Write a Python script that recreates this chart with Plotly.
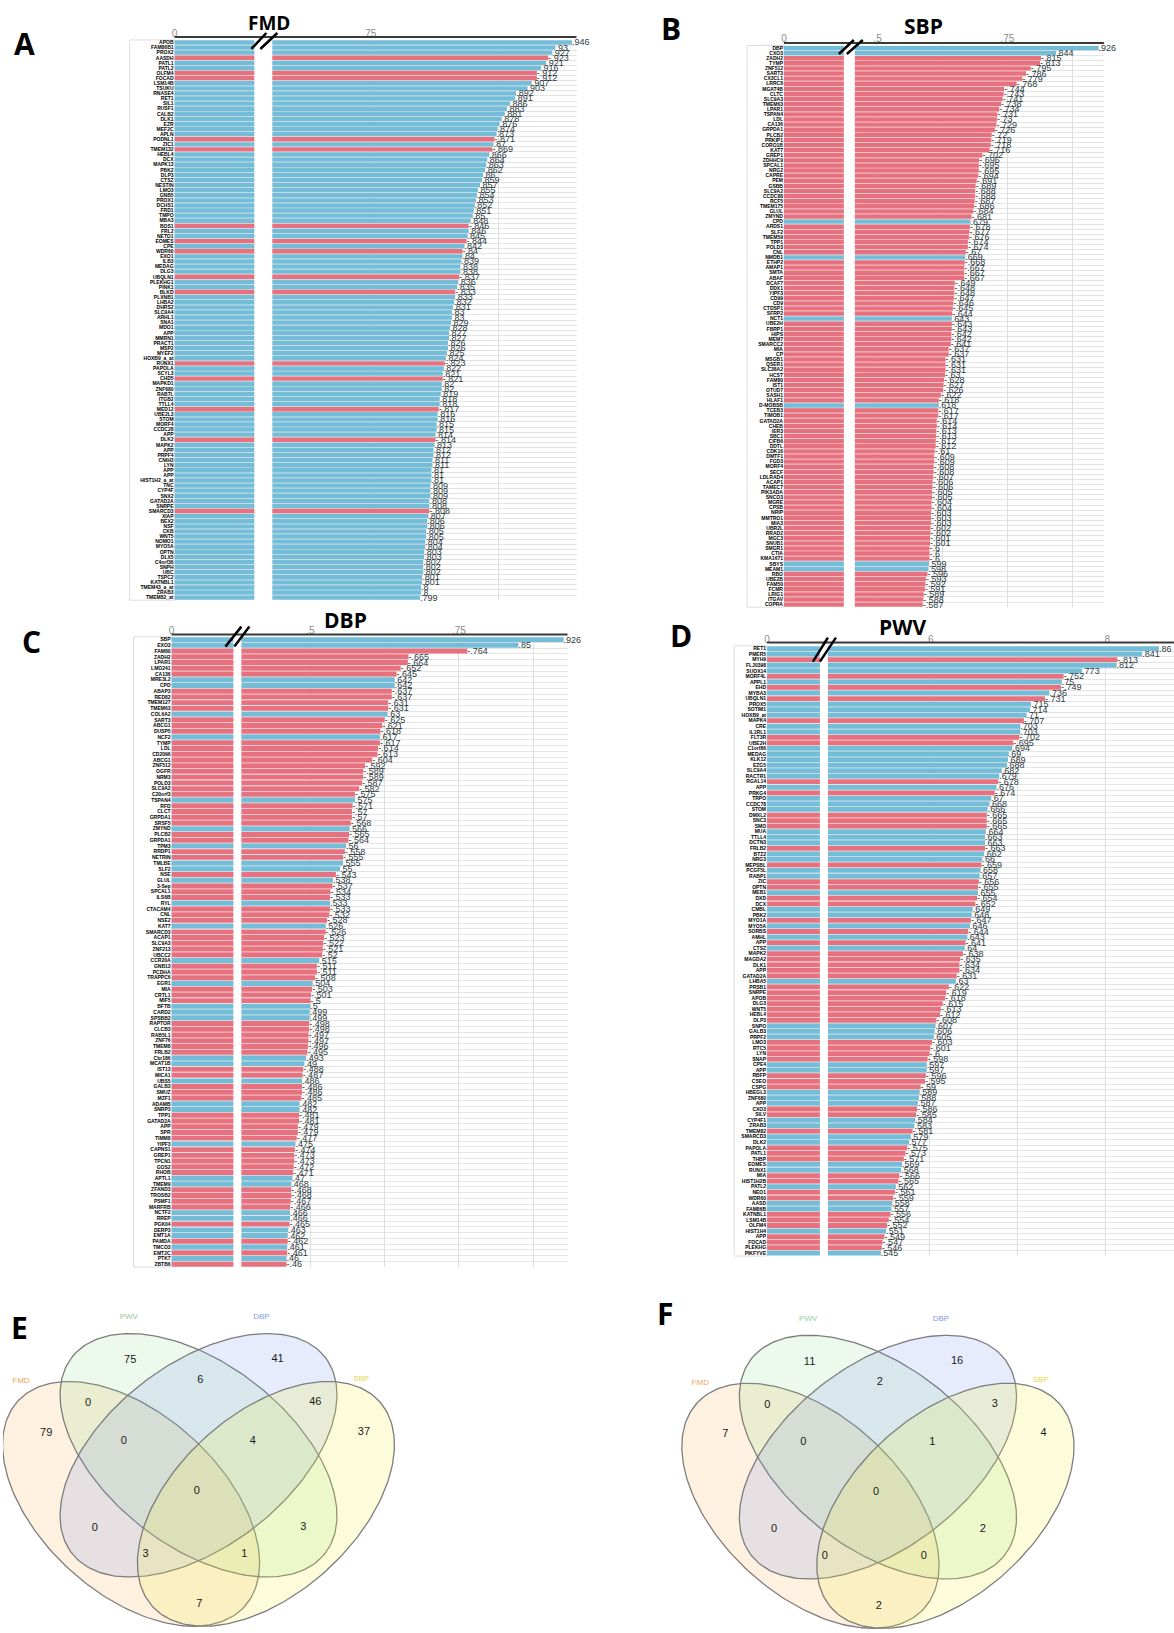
import plotly.graph_objects as go
import numpy as np

W, H = 1174, 1633

# ---------------- DATA ----------------
fmd_genes = ["APOB","FAM86B1","PROX2","AASDH","PATL1","PATL2","OLFM4","FOCAD","LSM14B","TSUKU",
 "RNASE4","RET1","SIL1","RUSF1","CALB2","DLK1","EZR","MEF2C","APLN","PODNL1",
 "ZIC1","TMEM132","HEBL4","DCX","MAPK13","PBK2","DLP3","CTSZ","NESTIN","LMO3",
 "GNB5","PROX1","DCHS1","FRD1","TMPO","MBA3","BOS1","FRL2","NETO1","EOMES",
 "CPE","WDR60","EXO1","ILB3","MEDAG","DLG3","UBQLN1","PLEKHG1","PINK1","BLKD",
 "PLXNB1","LHBA2","DHRS2","SLC9A4","ARHL1","SNA1","MDO1","APP","MMRN1","PRACT1",
 "MSP2","MYEF2","HOXB9_a_at","RUNX1","PAPOLA","SCYL3","CHD5","MAPKD1","ZNF680","RAB7L",
 "ITGB2","TTLL4","MED12","UBE2L3","STOM","MORF4","CCDC28","APP","DLK2","MAPK2",
 "APP","PRPF4","CNIH3","LYN","APP","APP","HIST1H2_a_at","TNC","CYP4F","SNX2",
 "GATAD2A","SNRPE","SMARCD3","XIAP","BEX2","NSF","CKB","WNT5","NOMO1","MYO5A",
 "OPTN","DLX5","C4orf36","SNPH","UBC","TSPC2","KATNBL1","TMEM43_a_at","ZRAB3","TMEM82_at"]
fmd_vals = [.946,.93,.927,-.923,.921,.916,-.912,-.912,.907,.903,
 .892,.891,.886,.883,.881,.878,.876,.874,.873,-.871,
 .87,-.869,.866,.864,.863,.862,.86,.859,.857,.855,
 .854,.853,.852,.851,.85,.848,-.846,.846,.845,-.844,
 .842,-.84,.84,.839,.838,.838,-.837,.836,.835,-.833,
 .833,.832,.831,.83,.83,.829,.828,.827,.827,.826,
 .826,.825,.824,-.823,.822,.821,-.821,.82,.82,.819,
 .818,.818,-.817,.816,.816,.815,.815,.814,-.814,.813,
 .812,.812,.811,.811,.81,.81,.81,.809,.809,.809,
 .808,.808,-.808,.807,.806,.806,.805,.805,.804,.804,
 .803,.803,.802,.802,.802,.801,.801,.8,.8,.799]

sbp_genes = ["DBP","CXO3","ZADH2","TYMP","ZNF512","SART3","CX3CL1","LRRC8","MGAT4B","CLTC",
 "SLC9A3","TMEM63","LPAR1","TSPAN4","LDL","CA136","GRPDA1","PLCB2","PRKIP1","CORO1B",
 "KAT7","GREP1","ZDHHC9","SPCAL1","NRG2","CAPRE","PEM","GSBB","SLC9A2","CCDC88",
 "RCF5","TMEM175","GLUL","ZMYND","CPD","ARDS1","SLF2","TMEM59","TPP1","POLD3",
 "CNL","NMDB1","ETHP2","AMAP1","SMTA","ABAF","DCAF7","DDX1","YIPF3","CD99",
 "CD9","CTDSP1","SFRP2","NCT1","UBE2H","FBRP1","HIPS","MEM7","SMARCC2","MIA",
 "CP","MSGB1","QSER1","SLC38A2","HCST","FAM80","IST1","OTUD7","SASH1","HLAF1",
 "D-MOBSB","TCEB3","TIMOB1","GATAD2A","CHEB","IER3","SBC1","CIFB6","DDTL","CDK16",
 "DMTF1","FGD3","MORF4","SECF","LDLRAD4","ACAP1","TAMEC7","PIK3ADA","SNCO3","MGRE",
 "CPSB","NRIP","MMTRO1","MIA3","UBR2L","RRAD2","MGC3","SNUB1","SMGR1","CTIA",
 "KMA1671","SBYS","MEAM1","RBO","UBE2B","FAM50","FCMR","LRIG1","ITGAV","COPRA"]
sbp_vals = [.926,.844,-.815,-.813,-.795,-.786,-.779,-.768,-.744,-.743,
 -.741,-.738,-.734,-.731,-.73,-.729,-.726,-.72,-.719,-.718,
 -.716,-.702,-.696,-.695,-.695,-.694,-.691,-.689,-.688,-.688,
 -.687,-.686,-.684,-.681,.679,-.678,-.677,-.676,-.674,-.674,
 -.67,.669,-.668,-.667,-.667,-.667,-.649,-.648,-.648,-.647,
 -.646,-.645,-.644,.643,-.643,-.643,-.642,-.642,-.641,-.637,
 -.637,-.631,-.631,-.631,-.63,-.628,-.627,-.626,-.622,-.618,
 .618,-.617,-.617,-.614,-.614,-.613,-.613,-.612,-.612,-.61,
 -.609,-.609,-.608,-.608,-.607,-.606,-.606,-.605,-.605,-.604,
 -.604,-.603,-.603,-.603,-.602,-.602,-.601,-.601,-.6,-.6,
 -.6,.599,.598,-.596,-.593,-.592,-.591,-.589,-.588,-.587]

dbp_genes = ["SBP","EXO3","FAM80","ZADH2","LPAR1","LMO241","CA136","MRE3L2","CPD","ABAP3",
 "RED82","TMEM127","TMEM63","COL6A2","SART3","ABCG1","DUSP5","NCF2","TYMP","LDL",
 "CD2096","ABCG1","ZNF512","OGFR","NRM3","POLD3","SLC9A2","C20orf3","TSPAN4","RFD",
 "CLCT","GRPDA1","SRSF5","ZMYND","PLCB2","GRPDA1","TPM3","RRDP1","NETRIN","TMLBE",
 "SLF2","NSE","GLUL","3-Sep","SPCAL1","ILS6B","RYL","CTACAM4","CNL","NSE2",
 "KAT7","SMARCD3","ACAP1","SLC9A3","ZNF213","UBCC2","CCR20A","GNB13","PCDHA","TRAPPC6",
 "EGR1","MIA","CRTL1","MIF5","BFTB","CARD2","SPSBB2","RAPTOR","CLCB3","RAB5L1",
 "ZNF76","TMEM8","FRLB2","Cbr186","MCAT1B","IST13","MICA1","UBS5","GALB3","SMUZ",
 "MZF1","ADAMB","SNRP3","TPP1","GATAD2A","APP","SPR","TIMM8","YIPF3","CAPNS1",
 "GREP1","TPCN1","GOS2","RHOB","APTL1","TMEM9","ZFAND3","TROSB2","PSMF1","MARFRB",
 "NCTF2","RREP","PGK04","DERP3","EMT1A","PAMDA","TMCO3","EMT2C","PTK7","ZBTB6"]
dbp_vals = [.926,.85,-.764,-.665,-.664,-.652,-.645,.642,.642,-.637,
 -.637,-.631,-.631,.63,-.625,-.621,-.618,.617,-.617,-.614,
 -.613,-.604,-.592,-.589,-.589,-.587,-.582,-.575,.575,-.571,
 -.57,-.57,-.568,.566,-.565,-.564,.56,-.558,-.555,.555,
 .55,-.543,.538,-.537,-.534,-.533,.533,-.533,-.532,-.528,
 .526,-.526,-.523,-.522,-.521,-.52,.515,-.511,-.511,-.508,
 .504,-.503,-.501,-.5,.5,.499,.499,-.498,-.498,-.497,
 -.497,-.496,-.495,.493,.49,-.488,-.487,.486,-.486,-.486,
 -.485,.482,.482,-.481,-.481,-.479,-.479,-.477,.475,-.474,
 -.473,-.473,-.472,-.471,.47,.468,-.468,-.468,-.467,-.466,
 .466,.466,-.465,.463,.462,-.462,.461,-.461,.46,-.46]

pwv_genes = ["RET1","PMER5","MYH9","FLJ0398","SUOX14","MORF4L","APPL1","EHD","MYBA3","UBQLN1",
 "PROX5","SOTIM1","HOXB9_at","MAPK4","CRE","IL1RL1","FLT3R","UBE2H","C1orf86","MEDAG",
 "KLK12","EZG5","SLC9A4","RACTR1","RGAL14","APP","PRKG4","TRPO","CCDC78","STOM",
 "DMXL2","SNC3","SMO","MUA","TTLL4","DCTN3","FRLB2","BTZ2","NRG3","MEPSBL",
 "PCGF5L","RABP1","ZIC","OPTN","MEB1","DXD","DCX","CMBL","PBK2","MYO1A",
 "MYO5A","SORBS","AMHL","APP","CTSZ","MAPK2","MAGDA2","DLK1","APP","GATAD2A",
 "LHBA5","PRSB1","SNRPE","APOB","DLG3","WNT5","HEBL4","DLP3","SNPO","GALB3",
 "PRPF2","LMO3","RTC5","LYN","SNAP","CPE4","APP","RBFP","CSEO","CSPG",
 "HBEGL3","ZNF680","APP","CXO3","SILV","CYP4F1","ZRAB3","TMEM82","SMARCD3","DLK2",
 "PAPOLA","PATL1","THBP","EOMES","RUNX1","MIA","HIST1H2B","PATL2","NEO1","WDR60",
 "AASD","FAM86B","KATNBL1","LSM14B","OLFM4","HIST1H4","APP","FOCAD","PLEKHG","PIKFYVE"]
pwv_vals = [.86,.841,-.813,.812,.773,-.752,.75,-.749,.736,-.731,
 .715,.714,.71,-.707,.703,.703,-.702,-.695,.694,.69,
 .689,.688,.682,.679,-.678,.676,-.674,.67,.668,.666,
 -.665,-.665,-.665,.664,.663,.663,-.663,.662,.66,-.659,
 .658,.657,-.656,-.655,.655,-.654,-.652,.649,.648,-.647,
 .646,-.644,.643,-.641,.64,-.638,-.635,-.634,-.634,-.631,
 .63,-.622,-.619,-.618,-.615,-.613,-.612,-.608,.607,.606,
 .605,-.603,-.601,-.6,-.598,.597,.597,-.596,-.595,-.59,
 .589,.588,.587,-.586,-.585,.584,.583,-.581,.579,.577,
 -.575,-.573,-.571,.569,.568,-.566,-.565,.562,-.561,-.559,
 .558,.557,-.556,-.554,-.552,.551,-.549,-.547,-.546,.545]

venn_sets = ["FMD", "PWV", "DBP", "SBP"]
venn_regions = ["FMD", "PWV", "DBP", "SBP", "FMD&PWV", "PWV&DBP", "DBP&SBP", "FMD&SBP",
                "FMD&DBP", "PWV&SBP", "FMD&PWV&DBP", "PWV&DBP&SBP", "FMD&DBP&SBP",
                "FMD&PWV&SBP", "ALL"]
venn_E_counts = [79, 75, 41, 37, 0, 6, 46, 7, 0, 3, 0, 4, 3, 1, 0]
venn_F_counts = [7, 11, 16, 4, 0, 2, 3, 2, 0, 2, 0, 1, 0, 0, 0]

# ---------------- LAYOUT CONSTANTS ----------------
BLUE = "#74BDD8"
RED = "#E8717F"


def fx(p):
    return p / W


def fy(p):
    return 1 - p / H


def fmt(v):
    s = f"{abs(v):.3f}".rstrip("0").rstrip(".")
    if s.startswith("0"):
        s = s[1:]
    return ("-" if v < 0 else "") + s


panels = [
    dict(genes=fmd_genes, vals=fmd_vals, title="FMD", letter="A", labx=127,
         xl="x", xr="x2", y="y", segl=(172, 252), segr=(270, 575), v0=0.656, scale=1036,
         rows=(41.5, 597), axis_y=36, ticks=[0.75, 0.875], ticktext=[".75", ""],
         slashes=[((249, 48), (264, 32)), ((258, 48), (275, 32))],
         title_xy=(267, 22), letter_xy=(22, 43), title_size=19),
    dict(genes=sbp_genes, vals=sbp_vals, title="SBP", letter="B", labx=746,
         xl="x3", xr="x4", y="y2", segl=(783, 843), segr=(854, 1104), v0=0.456, scale=520,
         rows=(47, 604), axis_y=42, ticks=[0.5, 0.625, 0.75, 0.875], ticktext=[".5", "", ".75", ""],
         slashes=[((838, 53), (853, 39)), ((846, 53), (862, 39))],
         title_xy=(923, 25), letter_xy=(670, 28), title_size=21),
    dict(genes=dbp_genes, vals=dbp_vals, title="DBP", letter="C", labx=131,
         xl="x5", xr="x6", y="y3", segl=(169, 231), segr=(239, 566), v0=0.384, scale=596,
         rows=(639, 1264), axis_y=634, ticks=[0.5, 0.625, 0.75, 0.875], ticktext=[".5", "", ".75", ""],
         slashes=[((223, 646), (239, 626)), ((232, 646), (247, 626))],
         title_xy=(343, 619), letter_xy=(29, 641), title_size=21),
    dict(genes=pwv_genes, vals=pwv_vals, title="PWV", letter="D", labx=733,
         xl="x7", xr="x8", y="y4", segl=(766, 819), segr=(827, 1174), v0=0.485, scale=885,
         rows=(648, 1253), axis_y=642, ticks=[0.6, 0.7, 0.8], ticktext=[".6", "", ".8"],
         slashes=[((812, 661), (827, 637)), ((819, 661), (835, 637))],
         title_xy=(902, 626), letter_xy=(680, 635), title_size=21),
]

fig = go.Figure()
layout = dict(width=W, height=H, margin=dict(l=0, r=0, t=0, b=0),
              paper_bgcolor="white", plot_bgcolor="white", showlegend=False,
              bargap=0.14, font=dict(family="Liberation Sans"))
shapes = []
annotations = []


def axkey(a):
    return "xaxis" + a[1:] if a.startswith("x") else "yaxis" + a[1:]


for p in panels:
    n = min(len(p["genes"]), len(p["vals"]))
    genes = p["genes"][:n]
    vals = p["vals"][:n]
    idx = list(range(n))
    mag = [abs(v) for v in vals]
    cols = [BLUE if v > 0 else RED for v in vals]
    labels = [fmt(v) for v in vals]
    c0, c1 = p["rows"]
    h = (c1 - c0) / (n - 1)
    top, bot = c0 - h / 2, c1 + h / 2

    fig.add_trace(go.Bar(x=mag, y=idx, orientation="h", marker=dict(color=cols, line=dict(width=0)),
                         xaxis=p["xl"], yaxis=p["y"], hoverinfo="skip"))
    fig.add_trace(go.Bar(x=mag, y=idx, orientation="h", marker=dict(color=cols, line=dict(width=0)),
                         xaxis=p["xr"], yaxis=p["y"], text=labels, textposition="outside",
                         constraintext="none", cliponaxis=False,
                         textfont=dict(size=9, color="#2e3a40", family="Liberation Sans"),
                         hoverinfo="skip"))

    yk = axkey(p["y"])
    layout[yk] = dict(domain=[fy(bot), fy(top)], range=[n - 0.5, -0.5], anchor=p["xl"],
                      tickmode="array", tickvals=idx, ticktext=genes,
                      tickfont=dict(size=5, color="black", family="Liberation Sans", weight="bold"),
                      showgrid=False, zeroline=False, ticks="", showline=False, fixedrange=True,
                      minor=dict(tickmode="array", tickvals=[i + 0.5 for i in range(-1, n)],
                                 showgrid=True, gridcolor="#e4e4e4", gridwidth=1, ticks=""))
    layout[axkey(p["xl"])] = dict(domain=[fx(p["segl"][0]), fx(p["segl"][1])], range=[0, 0.1],
                                  anchor=p["y"], side="top", tickmode="array", tickvals=[0], ticktext=["0"],
                                  tickfont=dict(size=10, color="#8a8a8a"), showgrid=False,
                                  zeroline=False, showline=False, ticks="")
    r0, r1 = p["segr"]
    layout[axkey(p["xr"])] = dict(domain=[fx(r0), fx(r1)],
                                  range=[p["v0"], p["v0"] + (r1 - r0) / p["scale"]],
                                  anchor=p["y"], side="top", tickmode="array",
                                  tickvals=p["ticks"], ticktext=p["ticktext"],
                                  tickfont=dict(size=10, color="#8a8a8a"), showgrid=True,
                                  gridcolor="#dedede", gridwidth=1, zeroline=False,
                                  showline=False, ticks="")
    # label column border
    shapes.append(dict(type="rect", xref="paper", yref="paper",
                       x0=fx(p["labx"]), x1=fx(p["segl"][0]), y0=fy(bot), y1=fy(top),
                       line=dict(color="#dcdcdc", width=1), fillcolor="rgba(0,0,0,0)", layer="below"))
    shapes.append(dict(type="line", xref="paper", yref="paper",
                       x0=fx(p["segl"][0]), x1=fx(r1), y0=fy(p["axis_y"]), y1=fy(p["axis_y"]),
                       line=dict(color="#3a3a3a", width=2)))
    for (a, b) in p["slashes"]:
        shapes.append(dict(type="line", xref="paper", yref="paper",
                           x0=fx(a[0]), y0=fy(a[1]), x1=fx(b[0]), y1=fy(b[1]),
                           line=dict(color="black", width=2.5)))
    annotations.append(dict(text="<b>" + p["title"] + "</b>", x=fx(p["title_xy"][0]),
                            y=fy(p["title_xy"][1]), xref="paper", yref="paper", showarrow=False,
                            xanchor="center", yanchor="middle",
                            font=dict(size=p["title_size"], color="black", family="Open Sans")))
    annotations.append(dict(text="<b>" + p["letter"] + "</b>", x=fx(p["letter_xy"][0]),
                            y=fy(p["letter_xy"][1]), xref="paper", yref="paper", showarrow=False,
                            xanchor="center", yanchor="middle",
                            font=dict(size=30, color="black", family="Open Sans")))

# ---------------- VENN DIAGRAMS ----------------
ellipses = {  # cx, cy, a, b, rotation(deg)
    "FMD": (0.35, 0.465, 0.34, 0.20, 138.0),
    "PWV": (0.50, 0.573, 0.356, 0.203, 142.4),
    "DBP": (0.50, 0.573, 0.356, 0.203, 37.6),
    "SBP": (0.65, 0.465, 0.34, 0.20, 42.0),
}
fills = {"FMD": "rgba(250,170,70,0.17)", "PWV": "rgba(130,215,130,0.15)",
         "DBP": "rgba(110,140,235,0.17)", "SBP": "rgba(240,240,70,0.20)"}
set_label_colors = {"FMD": "#F0A55A", "PWV": "#8FD08F", "DBP": "#8797E4", "SBP": "#E2DA4A"}
set_label_pos = {"FMD": (0.105, 0.737), "PWV": (0.345, 0.88), "DBP": (0.64, 0.88), "SBP": (0.862, 0.743)}
region_pos = [(0.161, 0.623), (0.348, 0.784), (0.676, 0.786), (0.868, 0.625), (0.254, 0.689),
              (0.504, 0.740), (0.760, 0.691), (0.502, 0.243), (0.269, 0.412), (0.733, 0.414),
              (0.334, 0.605), (0.621, 0.605), (0.382, 0.353), (0.602, 0.353), (0.496, 0.494)]

venns = [
    dict(counts=venn_E_counts, xa="x9", ya="y5", xdom=(0, 600), xr=(0.065, 0.065 + 600 / 450.6),
         yr=(0.1783, 0.9174), letter="E", letter_xy=(17, 1327)),
    dict(counts=venn_F_counts, xa="x10", ya="y6", xdom=(600, 1174), xr=(-0.1146, 1.1581),
         yr=(0.1828, 0.9211), letter="F", letter_xy=(664, 1313)),
]

t = np.linspace(0, 2 * np.pi, 240)
for vn in venns:
    for s in venn_sets:
        cx, cy, a, b, rot = ellipses[s]
        th = np.deg2rad(rot)
        ex = cx + a * np.cos(t) * np.cos(th) - b * np.sin(t) * np.sin(th)
        ey = cy + a * np.cos(t) * np.sin(th) + b * np.sin(t) * np.cos(th)
        fig.add_trace(go.Scatter(x=ex, y=ey, mode="lines", fill="toself", fillcolor=fills[s],
                                 line=dict(color="#7d7d7d", width=1.3), xaxis=vn["xa"],
                                 yaxis=vn["ya"], hoverinfo="skip"))
    fig.add_trace(go.Scatter(x=[q[0] for q in region_pos], y=[q[1] for q in region_pos],
                             mode="text", text=[str(c) for c in vn["counts"]],
                             textfont=dict(size=11, color="#1a1a1a", family="Liberation Sans"),
                             xaxis=vn["xa"], yaxis=vn["ya"], hoverinfo="skip"))
    fig.add_trace(go.Scatter(x=[set_label_pos[s][0] for s in venn_sets],
                             y=[set_label_pos[s][1] for s in venn_sets],
                             mode="text", text=venn_sets,
                             textfont=dict(size=8, color=[set_label_colors[s] for s in venn_sets],
                                           family="Liberation Sans"),
                             xaxis=vn["xa"], yaxis=vn["ya"], hoverinfo="skip"))
    layout[axkey(vn["xa"])] = dict(domain=[fx(vn["xdom"][0]), fx(vn["xdom"][1])], range=list(vn["xr"]),
                                   visible=False, anchor=vn["ya"], fixedrange=True)
    layout[axkey(vn["ya"])] = dict(domain=[0, fy(1300)], range=list(vn["yr"]), visible=False,
                                   anchor=vn["xa"], fixedrange=True)
    annotations.append(dict(text="<b>" + vn["letter"] + "</b>", x=fx(vn["letter_xy"][0]),
                            y=fy(vn["letter_xy"][1]), xref="paper", yref="paper", showarrow=False,
                            xanchor="center", yanchor="middle",
                            font=dict(size=30, color="black", family="Open Sans")))

layout["shapes"] = shapes
layout["annotations"] = annotations
fig.update_layout(**layout)
fig.write_html("out.html", config={"displayModeBar": False},
               post_script="document.body.style.margin='0px';document.body.style.overflow='hidden';")
